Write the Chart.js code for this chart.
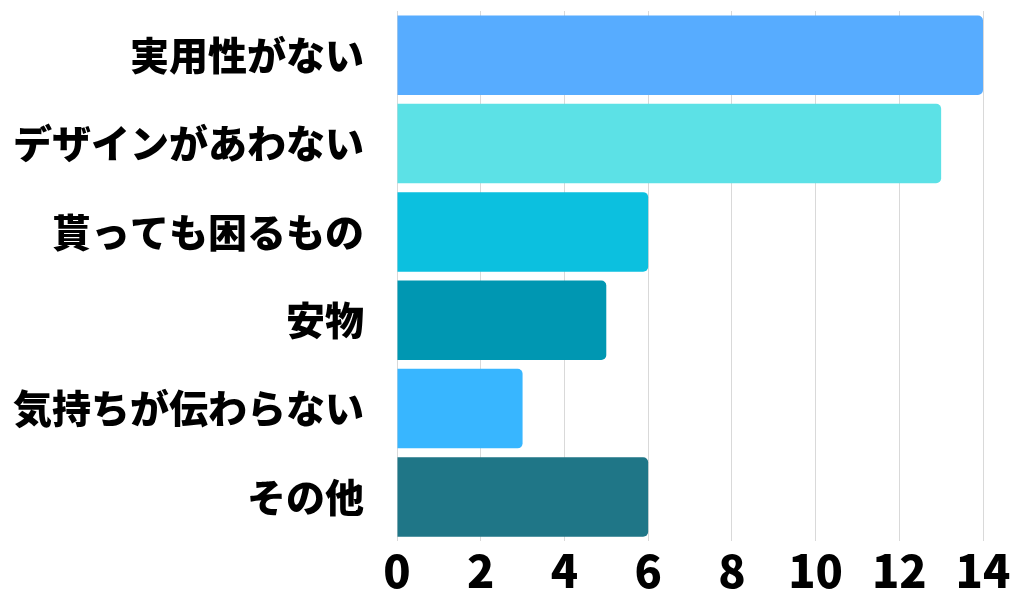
<!DOCTYPE html>
<html lang="ja">
<head>
    <meta charset="UTF-8">
    <title>プレゼントで困る理由</title>
    <script src="https://cdn.jsdelivr.net/npm/chart.js"></script>
    <style>
        html, body {
            margin: 0;
            padding: 0;
            background: #ffffff;
        }
        #wrap {
            width: 1014px;
            height: 601px;
        }
    </style>
</head>
<body>
    <div id="wrap"><canvas id="reasonChart"></canvas></div>
    <script>
        const labels = ['実用性がない', 'デザインがあわない', '貰っても困るもの', '安物', '気持ちが伝わらない', 'その他'];
        const counts = [14, 13, 6, 5, 3, 6];
        const barColors = ['#57ACFF', '#5CE1E6', '#0CC0DF', '#0097B2', '#38B6FF', '#1F7687'];
        const xTicks = [0, 2, 4, 6, 8, 10, 12, 14];

        const fontFamily = '"Noto Sans CJK JP", "Noto Sans", sans-serif';

        new Chart(document.getElementById('reasonChart'), {
            type: 'bar',
            data: {
                labels,
                datasets: [{
                    data: counts,
                    backgroundColor: barColors,
                    borderRadius: { topRight: 5, bottomRight: 5 },
                    borderSkipped: 'start',
                    categoryPercentage: 1,
                    barPercentage: 0.9
                }]
            },
            options: {
                indexAxis: 'y',
                responsive: true,
                maintainAspectRatio: false,
                animation: false,
                layout: { padding: { top: 11, right: 31, left: 0, bottom: 0 } },
                plugins: {
                    legend: { display: false },
                    tooltip: { enabled: false }
                },
                scales: {
                    x: {
                        min: 0,
                        max: 14,
                        afterBuildTicks: axis => {
                            axis.ticks = xTicks.map(v => ({ value: v }));
                        },
                        grid: { color: '#d9d9d9', drawTicks: false },
                        border: { display: false },
                        ticks: {
                            color: '#000000',
                            padding: 0,
                            font: { family: fontFamily, size: 45, weight: 900, lineHeight: 1.33 }
                        }
                    },
                    y: {
                        // labels sit 33px left of the bars; width fixed so bars start at x=397
                        afterFit: axis => { axis.width = 397; },
                        grid: { display: false, drawTicks: true, tickLength: 33 },
                        border: { display: false },
                        ticks: {
                            color: '#000000',
                            padding: 0,
                            font: { family: fontFamily, size: 39, weight: 900, lineHeight: 0.55 }
                        }
                    }
                }
            }
        });
    </script>
</body>
</html>
